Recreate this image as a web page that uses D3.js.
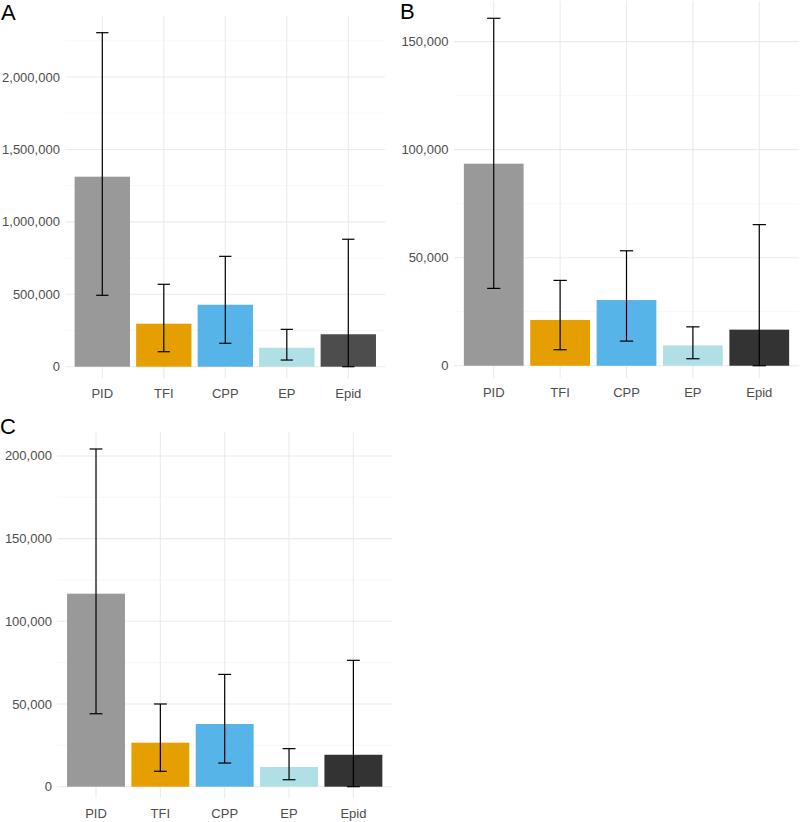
<!DOCTYPE html>
<html>
<head>
<meta charset="utf-8">
<script src="https://cdn.jsdelivr.net/npm/d3@7"></script>
<style>
  html, body { margin: 0; padding: 0; background: #fff; }
  svg { display: block; font-family: "Liberation Sans", Arial, Helvetica, sans-serif; }
</style>
</head>
<body>
<svg id="chart" width="800" height="822"></svg>
<script>
// categories shared by all three panels
const categories = ["PID", "TFI", "CPP", "EP", "Epid"];

// panel A
const meanA = [1312000, 297000, 428000, 131000, 224000];
const lowA  = [493000, 103600, 161600, 46000, 0];
const highA = [2306000, 569000, 762000, 258000, 880000];
const ticksA = [0, 500000, 1000000, 1500000, 2000000];
const colorsA = ["#999999", "#E69F00", "#56B4E9", "#B0E0E6", "#4D4D4D"];

// panel B
const meanB = [93500, 21200, 30400, 9400, 16700];
const lowB  = [35800, 7400, 11400, 3240, 0];
const highB = [160800, 39500, 53200, 18000, 65300];
const ticksB = [0, 50000, 100000, 150000];
const colorsB = ["#999999", "#E69F00", "#56B4E9", "#B0E0E6", "#333333"];

// panel C
const meanC = [116700, 26600, 37900, 11900, 19300];
const lowC  = [44100, 9300, 14300, 4200, 0];
const highC = [204200, 50000, 67900, 23000, 76400];
const ticksC = [0, 50000, 100000, 150000, 200000];
const colorsC = ["#999999", "#E69F00", "#56B4E9", "#B0E0E6", "#333333"];

const svg = d3.select("#chart");
const fmt = d3.format(",");

// where each panel sits on the page
const panels = [
  { label: "A", lx: 1,   ly: 20,  left: 65.4,  right: 385.2, top: 16,    bottom: 378.4,
    mean: meanA, low: lowA, high: highA, ticks: ticksA, colors: colorsA },
  { label: "B", lx: 400, ly: 18.5, left: 453.9, right: 799.1, top: 0.9,  bottom: 377.9,
    mean: meanB, low: lowB, high: highB, ticks: ticksB, colors: colorsB },
  { label: "C", lx: 0,   ly: 434, left: 57.4,  right: 392,   top: 432.1, bottom: 798.5,
    mean: meanC, low: lowC, high: highC, ticks: ticksC, colors: colorsC }
];

panels.forEach(p => {
  const g = svg.append("g");
  const maxV = d3.max(p.high);

  const x = d3.scalePoint()
    .domain(categories)
    .range([p.left, p.right])
    .padding(0.6);
  const step = x.step();

  const y = d3.scaleLinear()
    .domain([-0.035 * maxV, 1.05 * maxV])
    .range([p.bottom, p.top]);

  // minor grid lines halfway between the major ticks
  const half = (p.ticks[1] - p.ticks[0]) / 2;
  const minor = d3.range(half, y.domain()[1], half * 2);
  g.selectAll(".minor")
    .data(minor)
    .enter()
    .append("line")
    .attr("x1", p.left).attr("x2", p.right)
    .attr("y1", d => y(d)).attr("y2", d => y(d))
    .attr("stroke", "#F1F1F1")
    .attr("stroke-width", 0.6);

  // major grid
  g.selectAll(".major")
    .data(p.ticks)
    .enter()
    .append("line")
    .attr("x1", p.left).attr("x2", p.right)
    .attr("y1", d => y(d)).attr("y2", d => y(d))
    .attr("stroke", "#EBEBEB")
    .attr("stroke-width", 1.1);

  g.selectAll(".vgrid")
    .data(categories)
    .enter()
    .append("line")
    .attr("x1", d => x(d)).attr("x2", d => x(d))
    .attr("y1", p.top).attr("y2", p.bottom)
    .attr("stroke", "#EBEBEB")
    .attr("stroke-width", 1.1);

  // bars
  g.selectAll(".bar")
    .data(categories)
    .enter()
    .append("rect")
    .attr("x", d => x(d) - step * 0.45)
    .attr("width", step * 0.9)
    .attr("y", (d, i) => y(p.mean[i]))
    .attr("height", (d, i) => y(0) - y(p.mean[i]))
    .attr("fill", (d, i) => p.colors[i]);

  // error bars
  const eb = g.selectAll(".err")
    .data(categories)
    .enter()
    .append("g")
    .attr("stroke", "#000")
    .attr("stroke-width", 1.2)
    .attr("fill", "none");
  const cap = step * 0.1;
  eb.append("line")
    .attr("x1", d => x(d)).attr("x2", d => x(d))
    .attr("y1", (d, i) => y(p.low[i])).attr("y2", (d, i) => y(p.high[i]));
  eb.append("line")
    .attr("x1", d => x(d) - cap).attr("x2", d => x(d) + cap)
    .attr("y1", (d, i) => y(p.low[i])).attr("y2", (d, i) => y(p.low[i]));
  eb.append("line")
    .attr("x1", d => x(d) - cap).attr("x2", d => x(d) + cap)
    .attr("y1", (d, i) => y(p.high[i])).attr("y2", (d, i) => y(p.high[i]));

  // y axis labels
  g.selectAll(".ytick")
    .data(p.ticks)
    .enter()
    .append("text")
    .attr("x", p.left - 5.5)
    .attr("y", d => y(d))
    .attr("dy", "0.35em")
    .attr("text-anchor", "end")
    .attr("font-size", 13)
    .attr("fill", "#4D4D4D")
    .text(d => fmt(d));

  // x axis labels
  g.selectAll(".xtick")
    .data(categories)
    .enter()
    .append("text")
    .attr("x", d => x(d))
    .attr("y", p.bottom + 19.5)
    .attr("text-anchor", "middle")
    .attr("font-size", 13)
    .attr("fill", "#4D4D4D")
    .text(d => d);

  // panel letter
  svg.append("text")
    .attr("x", p.lx)
    .attr("y", p.ly)
    .attr("font-size", 22)
    .attr("fill", "#000")
    .text(p.label);
});
</script>
</body>
</html>
